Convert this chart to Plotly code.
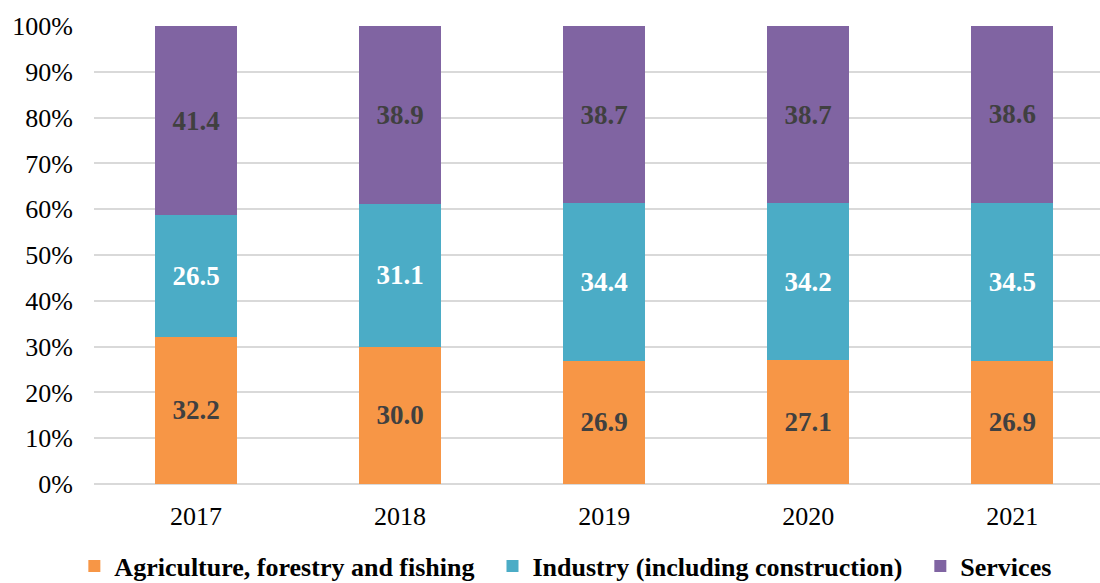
import plotly.graph_objects as go

years = ["2017", "2018", "2019", "2020", "2021"]
agriculture = [32.2, 30.0, 26.9, 27.1, 26.9]
industry = [26.5, 31.1, 34.4, 34.2, 34.5]
services = [41.4, 38.9, 38.7, 38.7, 38.6]

series = [
    ("Agriculture, forestry and fishing", agriculture, "#F79646", "#404040"),
    ("Industry (including construction)", industry, "#4BACC6", "#FFFFFF"),
    ("Services", services, "#8064A2", "#404040"),
]

SERIF = "Liberation Serif, Times New Roman, serif"

fig = go.Figure()
for name, vals, color, tcolor in series:
    fig.add_trace(go.Bar(
        x=years, y=vals, name=name + "\u00a0\u00a0",
        marker=dict(color=color, line=dict(width=0)),
        text=[f"{v:.1f}" for v in vals],
        textposition="inside", insidetextanchor="middle", textangle=0,
        textfont=dict(family=SERIF, size=27, color=tcolor, weight="bold"),
        width=0.4,
    ))

fig.update_layout(
    barmode="stack", barnorm="percent",
    width=1100, height=595,
    margin=dict(l=94, r=0, t=26, b=111),
    paper_bgcolor="white", plot_bgcolor="white",
    font=dict(family=SERIF, size=26, color="#000000"),
    xaxis=dict(range=[-0.5, 4.43], showgrid=False, showline=False, ticks="",
               automargin=False, ticklabelstandoff=14,
               tickfont=dict(family=SERIF, size=26, color="#000000")),
    yaxis=dict(range=[0, 100], dtick=10, ticksuffix="%", showgrid=True,
               gridcolor="#D9D9D9", gridwidth=2, zeroline=True, zerolinecolor="#D9D9D9",
               zerolinewidth=2, ticks="", automargin=False, ticklabelstandoff=20,
               tickfont=dict(family=SERIF, size=26, color="#000000")),
    legend=dict(orientation="h", x=0.475, xanchor="center",
                y=-0.128, yanchor="top",
                font=dict(family=SERIF, size=26, color="#000000", weight="bold"),
                itemwidth=30, traceorder="normal"),
    showlegend=True,
)
fig.write_html("out.html", config={"displayModeBar": False},
               post_script="document.body.style.margin='0px';document.body.style.overflow='hidden';")
